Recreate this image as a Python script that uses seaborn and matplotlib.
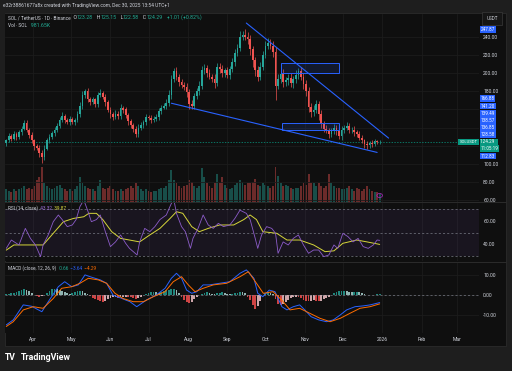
import pandas as pd
import matplotlib
matplotlib.use("Agg")
import matplotlib.pyplot as plt
import matplotlib.dates as mdates
import matplotlib.transforms as mtrans
from matplotlib.patches import Rectangle, Circle
from matplotlib.lines import Line2D
import seaborn as sns

# ---- data (2-day candles from 2025-03-11) ----
start_date = "2025-03-11"
first_open = 123.0
closes = [126, 131, 128, 133, 130, 135, 139, 145, 138, 132,
          126, 120, 118, 112, 108, 117, 126, 130, 134, 138,
          142, 149, 153, 148, 146, 150, 146, 148, 155, 164,
          176, 180, 172, 168, 171, 166, 176, 178, 174, 168,
          160, 155, 152, 155, 153, 162, 160, 154, 147, 143,
          139, 133, 140, 143, 146, 152, 151, 148, 150, 152,
          158, 162, 164, 167, 176, 193, 202, 196, 190, 187,
          185, 179, 166, 164, 175, 180, 186, 203, 206, 200,
          196, 194, 189, 207, 204, 200, 203, 198, 204, 212,
          222, 228, 240, 242, 240, 237, 226, 214, 203, 196,
          207, 220, 230, 233, 230, 223, 186, 194, 199, 190,
          192, 195, 189, 193, 198, 202, 196, 188, 180, 163,
          157, 160, 166, 155, 144, 139, 137, 133, 136, 140,
          136, 131, 137, 140, 142, 137, 138, 135, 133, 129,
          126, 122, 121, 123, 122, 125, 124, 124.29]
upper_wick = [2, 3, 2, 3, 2, 3, 3, 3, 4, 2, 3, 2, 2, 3, 3, 4, 3, 3, 2, 3,
              3, 3, 4, 2, 3, 3, 2, 3, 3, 4, 4, 3, 4, 2, 3, 2, 3, 4, 2, 3,
              2, 3, 2, 4, 3, 4, 2, 3, 2, 3, 2, 3, 4, 3, 2, 3, 2, 3, 3, 3,
              4, 3, 3, 4, 5, 5, 4, 5, 3, 4, 3, 4, 3, 4, 3, 4, 5, 5, 4, 3,
              4, 3, 5, 4, 4, 5, 3, 4, 4, 5, 5, 4, 6, 4, 6, 5, 5, 4, 4, 5,
              5, 4, 5, 6, 4, 5, 6, 5, 4, 5, 4, 4, 5, 4, 5, 4, 5, 4, 4, 5,
              4, 5, 4, 3, 4, 3, 4, 3, 4, 4, 3, 4, 5, 3, 4, 3, 3, 4, 3, 3,
              3, 2, 3, 2, 3, 3, 2, 2]
lower_wick = [3, 2, 3, 2, 3, 2, 3, 2, 3, 3, 3, 4, 3, 4, 7, 3, 2, 3, 2, 3,
              3, 2, 3, 3, 2, 3, 2, 3, 2, 3, 3, 3, 4, 3, 2, 3, 3, 2, 3, 4,
              3, 4, 3, 2, 3, 3, 4, 3, 4, 3, 4, 3, 3, 2, 3, 3, 2, 3, 2, 3,
              3, 3, 2, 3, 3, 4, 3, 4, 4, 3, 4, 5, 5, 3, 3, 3, 4, 3, 4, 4,
              3, 4, 5, 3, 4, 4, 4, 3, 4, 3, 4, 3, 4, 4, 4, 5, 6, 7, 6, 5,
              4, 4, 3, 4, 4, 5, 16, 4, 5, 5, 4, 5, 4, 5, 4, 4, 4, 5, 5, 6,
              5, 4, 4, 6, 4, 4, 3, 4, 3, 3, 4, 3, 4, 3, 3, 3, 3, 4, 3, 3,
              3, 4, 4, 3, 3, 2, 2, 2]
volumes = [4, 3.5, 3, 4, 3.5, 4, 4.5, 5, 4, 4.5, 4, 5, 7, 8, 11.5, 6, 5, 4.5, 4, 4.5,
           5, 5.5, 4.5, 4, 3.5, 4, 3.5, 4, 5, 8, 6, 5, 4.5, 4, 4, 3.5, 5, 7, 4.5, 4,
           4.5, 5, 4, 3.5, 3.5, 4, 3.5, 4, 4.5, 5, 4.5, 6, 5, 4, 3.5, 4, 3.5, 3, 3.5, 3.5,
           4, 4.5, 4.5, 5, 7, 10.5, 7, 6, 5, 4.5, 5, 5.5, 7, 6.5, 5, 4.5, 5, 11, 8, 6,
           5, 4.5, 6, 9, 6, 8, 5.5, 4.5, 4, 4.5, 5.5, 6, 7, 6.5, 5.5, 6, 6, 6.5, 7.5, 5.5,
           5, 6, 5.5, 5, 4.5, 5, 11.5, 8.5, 6, 5, 5.5, 5, 4.5, 4, 4.5, 4.5, 5, 6, 5.5, 9,
           6, 6, 5, 6, 5, 4.5, 5, 9, 6, 5, 4.5, 4.5, 4, 4, 4.5, 5, 4, 3.5, 4.5, 4,
           3.5, 4, 5, 4, 3.5, 3, 3, 2.5]
macd_hist = [0.5, 0.8, 1.0, 1.3, 1.6, 2.0,
             2.6, 3.0, 2.8, 2.0, 1.2,
             0.3, -0.3, -0.6, -0.4,
             0.4, 1.2, 2.2, 3.0, 3.3, 3.2, 2.8, 2.2, 1.6,
             1.0, 0.8, 1.2, 1.6, 2.0, 2.3, 2.0, 1.4,
             0.6, -0.4, -1.2, -1.8, -2.4, -3.0, -3.3, -2.8, -2.0, -1.4, -1.0, -0.8, -1.2,
             -1.0, -0.8, -0.6, -0.8, -1.0, -1.3, -1.6, -1.2, -0.6,
             0.2, 0.8, 1.2, 1.5, 1.8, 1.6, 1.4, 1.8, 2.2, 2.5, 2.8, 3.2, 3.3, 2.6, 1.2,
             -0.8, -2.2, -3.4, -4.0, -3.2, -2.0, -0.8,
             0.3, 0.8, 1.4, 1.6, 1.2, 0.8, 0.6, 1.0, 1.4, 1.5, 1.2, 0.8, 0.5, 0.7, 1.0, 1.4, 1.8, 1.6, 1.0,
             -0.6, -2.5, -5.0, -6.7, -5.5, -3.0,
             0.2, 1.0, 1.5, 1.2, 0.6,
             -2.0, -4.5, -5.0, -4.2, -3.2, -2.2,
             -1.5, -1.0, -0.6, -0.8, -1.5, -2.2, -2.8, -3.0, -2.6, -2.2, -2.6, -3.0, -2.6, -2.0, -1.4, -0.8,
             0.4, 1.0, 1.5, 2.0, 2.3, 2.4, 2.2, 1.8, 1.5, 1.6, 1.8, 1.5, 1.0,
             0.6, 0.4, 0.3, 0.2, 0.4, 0.5, 0.66]

rsi_days = [0, 4, 10, 15, 19, 23, 27, 29, 33, 37, 41, 44, 48, 52, 55, 58, 61, 64, 67, 71,
            74, 78, 82, 86, 90, 94, 97, 103, 105, 109, 113, 117, 121, 126, 130, 132, 134, 138, 141, 145,
            147, 151, 155, 159, 163, 167, 171, 176, 180, 184, 189, 192, 196, 198, 201, 205, 209, 212, 214, 218,
            222, 226, 230, 234, 238, 242, 246, 250, 254, 258, 261, 265, 269, 273, 277, 281, 285, 289, 292, 294]
rsi_vals = [36.5, 43.6, 39.4, 53.5, 45, 39.4, 29.4, 39.4, 47.9, 59.2, 64.9, 61, 55, 56.4, 61, 72, 77.7, 69, 59.2, 61,
            64.9, 50.7, 38, 42, 47.9, 40.8, 36.5, 30.9, 42, 53.5, 50.7, 55, 61, 64.9, 74.8, 77.7, 66.3, 55, 50.7, 36.5,
            45, 53.5, 64.9, 56.4, 53.5, 57.8, 55, 56.4, 62, 69, 66.3, 61, 45, 36.5, 47.9, 55, 53.5, 49.3, 32.3, 42,
            39.4, 45, 47.9, 39.4, 32.3, 35.1, 35.1, 29.4, 30.9, 39.4, 36.5, 49.3, 46.5, 42, 45, 38, 36.5, 39.4, 43.6, 43.32]
rsi_ma_days = [0, 6, 16, 29, 37, 45, 53, 61, 65, 71, 76, 83, 90, 97, 105, 113, 121, 129, 134, 139,
               146, 152, 159, 168, 179, 187, 192, 197, 202, 213, 221, 231, 242, 251, 258, 265, 276, 284, 294]
rsi_ma_vals = [35, 39.4, 39.4, 39.4, 49.3, 59.2, 62, 63.4, 66.3, 66.3, 61, 50.7, 45, 43.6, 42, 47.9, 53.5, 62, 67.7, 66.3,
               55, 50.7, 53.5, 56.4, 56.4, 61, 64.9, 61, 50.7, 49.3, 43.6, 43.6, 39.4, 33.7, 34.4, 40.8, 43.6, 42, 39.87]
macd_days = [0, 5.5, 13.4, 20, 28, 34, 41, 46, 51.5, 56.7, 62, 66, 74, 79, 84, 91, 97.4, 102.7, 110.5, 118,
             125, 130, 134, 138, 142, 146, 150, 155, 160, 168, 176, 184, 189, 195, 198, 202, 207, 211.6, 217, 221,
             226, 231, 235, 240, 246, 252, 257.5, 263, 268, 274.6, 281, 286.5, 294]
macd_vals = [-14.8, -12.3, -4.8, -5.5, -8.2, -2.3, 4.3, 6.8, 4.3, 5.2, 10.2, 9.3, 7.7, 6, 0.1, -1.6, -3.2, -5.7, -2.3, 0.1,
             3.5, 8.5, 11, 8.5, 2.6, 1, 1.8, 5.2, 5.2, 6, 6.8, 11, 12.7, 8.5, 1, -0.7, 2.6, 1.8, -5.7, -7.3,
             -5.7, -4.8, -7.3, -10.7, -12.3, -13.2, -12.3, -9.8, -7.3, -5.7, -5.3, -4.8, -3.64]
signal_days = [0, 5.5, 13.4, 21.3, 29, 37, 43.6, 51.5, 58, 64.6, 72.5, 79, 85.6, 92, 100, 108, 115.8, 125, 131.5, 138,
               143.3, 148.6, 155, 163, 173.5, 184, 190.6, 197, 202.4, 210, 216.8, 223.4, 231, 239, 247, 255, 263, 270.6,
               278.5, 286.4, 294]
signal_vals = [-15.6, -13.2, -7.3, -5.7, -6.5, -1.6, 3.5, 4.3, 6, 8.5, 7.7, 6, 1, -1.6, -3.2, -3.2, -0.7, 1.8, 6.8, 9.3,
               5.2, 1.8, 3.5, 5.2, 6, 9.3, 11.8, 6, 1, 1.8, -2.3, -7.3, -6.5, -9, -11.5, -13.2, -11.5, -9,
               -6.5, -5.7, -4.29]

month_ticks = ["2025-04-01", "2025-05-01", "2025-06-01", "2025-07-01", "2025-08-01", "2025-09-01",
               "2025-10-01", "2025-11-01", "2025-12-01", "2026-01-01", "2026-02-01", "2026-03-01"]
month_labels = ["Apr", "May", "Jun", "Jul", "Aug", "Sep", "Oct", "Nov", "Dec", "2026", "Feb", "Mar"]
price_ticks = [60, 80, 100, 120, 140, 160, 180, 200, 220, 240]
stack_tags = [128.58, 136.85, 138.57, 139.49, 141.20, 166.88]
top_tag = 247.87
low_tag = 112.83
last_price = 124.29
countdown = "11:05:19"
upper_trend = (["2025-09-16", "2026-01-06"], [255.0, 128.58])
lower_trend = (["2025-07-19", "2025-12-28"], [166.88, 112.83])
zones = [("2025-10-13", "2025-11-28", 199.8, 210.8),
         ("2025-10-14", "2025-11-28", 137.5, 144.8)]

# ---- style ----
W, H = 512, 371
BG_OUT, BG, GRID = "#1e1e1e", "#0f0f0f", "#1c1c1c"
TXT = "#d1d4dc"
UP, DOWN = "#26a69a", "#ef5350"
TEAL = "#22ab94"
BLUE = "#2962ff"
sns.set_theme(style="dark", rc={"figure.facecolor": BG_OUT, "axes.facecolor": BG,
                                "axes.edgecolor": BG, "text.color": TXT,
                                "xtick.color": TXT, "ytick.color": TXT})
plt.rcParams["font.family"] = ["Roboto", "DejaVu Sans"]


def box(x0, y0, x1, y1):
    return [x0 / W, 1 - y1 / H, (x1 - x0) / W, (y1 - y0) / H]


def chain(ax, x, y, parts, transform):
    s0, c0, f0 = parts[0]
    t = ax.text(x, y, s0, color=c0, fontsize=f0, transform=transform, va="center", ha="left")
    for s, c, f in parts[1:]:
        t = ax.annotate(s, xy=(1, 0.5), xycoords=t, va="center", ha="left", color=c, fontsize=f)
    return t


base = pd.Timestamp(start_date)
dates = pd.date_range(start_date, periods=len(closes), freq="2D")
xd = mdates.date2num(dates)
opens = [first_open] + closes[:-1]
is_up = [c >= o for o, c in zip(opens, closes)]
colors = [UP if u else DOWN for u in is_up]
highs = [max(o, c) + w for o, c, w in zip(opens, closes, upper_wick)]
lows = [min(o, c) - w for o, c, w in zip(opens, closes, lower_wick)]

x_left = mdates.date2num(base - pd.Timedelta(days=1.0))
x_right = mdates.date2num(base + pd.Timedelta(days=372.2))

fig = plt.figure(figsize=(W / 100, H / 100), dpi=100)
fig.patches.append(Rectangle((4.5 / W, 1 - 346 / H), 501.5 / W, 333 / H, transform=fig.transFigure,
                             facecolor=BG, edgecolor="#2b2b2b", lw=0.6, zorder=-10))

# price scale: 0.91 px per USD, 240 sits at y=36.7 px
px_usd = 0.91
p_top = 240 + (36.7 - 13.5) / px_usd
p_bot = 240 - (201.5 - 36.7) / px_usd

ax_vol = fig.add_axes(box(5, 13.5, 479, 201.5))
ax = fig.add_axes(box(5, 13.5, 479, 201.5))
ax_rsi = fig.add_axes(box(5, 202.5, 479, 261))
ax_macd = fig.add_axes(box(5, 262, 479, 333))
ax.patch.set_visible(False)

# volume
ax_vol.bar(xd, volumes, width=1.5, color=colors, alpha=0.42, linewidth=0)
ax_vol.set_ylim(0, 62)
ax_vol.set_xlim(x_left, x_right)
ax_vol.set_facecolor(BG)
ax_vol.set_xticks([])
ax_vol.set_yticks([])
for s in ax_vol.spines.values():
    s.set_visible(False)

# candles
ax.vlines(xd, lows, highs, colors=colors, lw=0.5, zorder=3)
ax.bar(xd, [max(abs(c - o), 0.4) for o, c in zip(opens, closes)],
       bottom=[min(o, c) for o, c in zip(opens, closes)], width=1.35,
       color=colors, linewidth=0, zorder=4)
ax.set_ylim(p_bot, p_top)
ax.axhline(last_price, color="#089981", lw=0.5, ls=(0, (2, 2)), zorder=2)

# drawings
for dts, ps in (upper_trend, lower_trend):
    ax.plot(mdates.date2num(pd.to_datetime(dts)), ps, color=BLUE, lw=0.8, zorder=5)
for d0, d1, lo, hi in zones:
    x0, x1 = mdates.date2num(pd.Timestamp(d0)), mdates.date2num(pd.Timestamp(d1))
    ax.add_patch(Rectangle((x0, lo), x1 - x0, hi - lo, facecolor=BLUE, alpha=0.12,
                           edgecolor="none", zorder=5))
    ax.add_patch(Rectangle((x0, lo), x1 - x0, hi - lo, facecolor="none",
                           edgecolor=BLUE, lw=0.7, zorder=5))

# RSI pane
ax_rsi.set_ylim(70 - 52 / 1.175, 70 + 6.5 / 1.175)
ax_rsi.axhspan(30, 70, color="#7e57c2", alpha=0.09, lw=0)
for lvl in (70, 50, 30):
    ax_rsi.axhline(lvl, color="#787b86", lw=0.5, ls=(0, (3, 3)))
sns.lineplot(x=base + pd.to_timedelta(rsi_ma_days, unit="D"), y=rsi_ma_vals, ax=ax_rsi,
             color="#d6d63a", lw=0.7)
sns.lineplot(x=base + pd.to_timedelta(rsi_days, unit="D"), y=rsi_vals, ax=ax_rsi,
             color="#8c5cc9", lw=0.6)

# MACD pane
ax_macd.set_ylim(-(333 - 295.3) / 2, (295.3 - 262) / 2)
ax_macd.axhline(0, color="#787b86", lw=0.5, ls=(0, (3, 3)))
hist_cols = []
for i, v in enumerate(macd_hist):
    prev = macd_hist[i - 1] if i else 0
    if v >= 0:
        hist_cols.append("#26a69a" if v > prev else "#b2dfdb")
    else:
        hist_cols.append("#ffcdd2" if v > prev else "#ff5252")
ax_macd.bar(xd, macd_hist, width=1.4, color=hist_cols, linewidth=0, alpha=0.8)
sns.lineplot(x=base + pd.to_timedelta(macd_days, unit="D"), y=macd_vals, ax=ax_macd,
             color=BLUE, lw=0.7)
sns.lineplot(x=base + pd.to_timedelta(signal_days, unit="D"), y=signal_vals, ax=ax_macd,
             color="#ff6d00", lw=0.7)

# axes cosmetics (price labels behind the tag stack are hidden, as on the scale)
tick_x = mdates.date2num(pd.to_datetime(month_ticks))
price_labels = ["" if 110 < v < 170 else f"{v:.2f}" for v in price_ticks]
for a, yt, yl in ((ax, price_ticks, price_labels),
                  (ax_rsi, [40, 60], ["40.00", "60.00"]),
                  (ax_macd, [-10, 0, 10], ["-10.00", "0.00", "10.00"])):
    a.set_xlim(x_left, x_right)
    a.set_xticks(tick_x)
    a.set_xticklabels(month_labels if a is ax_macd else [])
    a.yaxis.tick_right()
    a.set_yticks(yt)
    a.set_yticklabels(yl)
    a.tick_params(axis="both", length=0, labelsize=3.6, colors=TXT)
    a.tick_params(axis="y", pad=3)
    a.tick_params(axis="x", pad=3.2)
    a.set_xlabel("")
    a.set_ylabel("")
    a.grid(True, axis="x", color=GRID, lw=0.6)
    if a is not ax_rsi:
        a.grid(True, axis="y", color=GRID, lw=0.6)
    for s in a.spines.values():
        s.set_visible(False)
    a.set_axisbelow(True)

for yy in (202, 261.5):
    fig.add_artist(Line2D([4.5 / W, 506 / W], [1 - yy / H] * 2, color="#2b2b2b", lw=0.7))

# price tags on the scale
blend = mtrans.blended_transform_factory(ax.transAxes, ax.transData)
tag_x = 1.003
step = 7.9
tag_kw = dict(transform=blend, fontsize=3.3, color="white", va="center", ha="left",
              zorder=10, clip_on=False)
for k, v in enumerate(stack_tags):
    ax.text(tag_x, last_price + (k + 1) * step, f"{v:.2f}",
            bbox=dict(boxstyle="square,pad=0.2", fc=BLUE, ec="none"), **tag_kw)
ax.text(tag_x, top_tag, f"{top_tag:.2f}",
        bbox=dict(boxstyle="square,pad=0.2", fc=BLUE, ec="none"), **tag_kw)
ax.text(tag_x, last_price, f"{last_price:.2f}  ",
        bbox=dict(boxstyle="square,pad=0.2", fc="#089981", ec="none"), **tag_kw)
ax.text(tag_x, last_price - step * 0.85, countdown,
        bbox=dict(boxstyle="square,pad=0.2", fc="#089981", ec="none"), **tag_kw)
ax.text(tag_x, last_price - step * 1.95, f"{low_tag:.2f}",
        bbox=dict(boxstyle="square,pad=0.2", fc=BLUE, ec="none"), **tag_kw)
ax.text(0.997, last_price, "SOLUSDT", transform=blend, fontsize=3.1, color="white",
        va="center", ha="right", zorder=10,
        bbox=dict(boxstyle="square,pad=0.25", fc="#089981", ec="none"))
fig.text(492 / W, 1 - 18.3 / H, "USDT", fontsize=3.3, color=TXT, ha="center", va="center",
         bbox=dict(boxstyle="square,pad=0.9", fc="#161616", ec="#3a3a3a", lw=0.5))
ax.add_patch(Circle((mdates.date2num(pd.Timestamp("2025-12-30")), 65.5), 2.2,
                    facecolor="none", edgecolor="#9c27b0", lw=0.6, zorder=6, clip_on=False))

# legends
fig.text(3 / W, 1 - 6 / H, "e32r38861677a8x created with TradingView.com, Dec 30, 2025 13:54 UTC+1",
         fontsize=3.55, color=TXT, va="center", ha="left")
NF, VF = 3.4, 3.75
chain(ax, 0.007, 1 - 4 / 188, [("SOL / TetherUS · 1D · Binance", TXT, NF), ("  O", TXT, VF),
                                ("123.28", TEAL, VF), ("   H", TXT, VF), ("125.15", TEAL, VF),
                                ("   L", TXT, VF), ("122.58", TEAL, VF), ("   C", TXT, VF),
                                ("124.29", TEAL, VF), ("   +1.01 (+0.82%)", TEAL, VF)], ax.transAxes)
chain(ax, 0.007, 1 - 12 / 188, [("Vol · SOL", TXT, NF), ("   981.65K", TEAL, VF)], ax.transAxes)
chain(ax_rsi, 0.007, 1 - 6 / 58.5, [("RSI (14, close)", TXT, NF), ("  43.32", "#9b6fd6", NF),
                                     ("  39.87", "#d6d63a", NF)], ax_rsi.transAxes)
chain(ax_macd, 0.007, 1 - 6 / 71, [("MACD (close, 12, 26, 9)", TXT, NF), ("  0.66", TEAL, NF),
                                    ("  −3.64", BLUE, NF), ("  −4.29", "#ff6d00", NF)], ax_macd.transAxes)

# footer logo
fig.text(5 / W, 1 - 358 / H, "TV", fontsize=6.2, fontweight="bold", color="white",
         va="center", ha="left")
fig.text(20.5 / W, 1 - 358 / H, "TradingView", fontsize=6.4, fontweight="bold", color="white",
         va="center", ha="left")

fig.savefig("out.png", dpi=100, facecolor=BG_OUT)
